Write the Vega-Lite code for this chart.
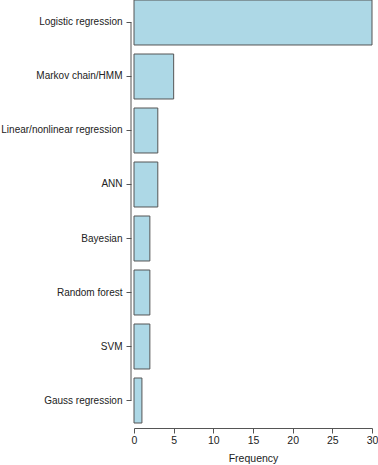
{
  "$schema": "https://vega.github.io/schema/vega-lite/v6.json",
  "autosize": "none",
  "width": 238,
  "height": 423,
  "padding": {"left": 134, "top": 0, "right": 6, "bottom": 42},
  "background": "white",
  "config": {
    "view": {"stroke": null},
    "axis": {"labelFont": "Liberation Sans", "titleFont": "Liberation Sans", "labelColor": "#222222", "titleColor": "#222222", "grid": false}
  },
  "datasets": {
    "bars": [
      {"method": "Logistic regression", "count": 30},
      {"method": "Markov chain/HMM", "count": 5},
      {"method": "Linear/nonlinear regression", "count": 3},
      {"method": "ANN", "count": 3},
      {"method": "Bayesian", "count": 2},
      {"method": "Random forest", "count": 2},
      {"method": "SVM", "count": 2},
      {"method": "Gauss regression", "count": 1}
    ],
    "axisline": [{"from": "Logistic regression", "to": "Gauss regression", "zero": 0}]
  },
  "layer": [
    {
      "data": {"name": "bars"},
      "mark": {"type": "bar", "fill": "#add8e6", "stroke": "#555555", "strokeWidth": 1},
      "encoding": {
        "y": {
          "field": "method", "type": "nominal",
          "scale": {"domain": ["Logistic regression", "Markov chain/HMM", "Linear/nonlinear regression", "ANN", "Bayesian", "Random forest", "SVM", "Gauss regression"], "paddingInner": 0.1667, "paddingOuter": 0},
          "axis": {"title": null, "domain": false, "offset": 3, "tickSize": 5, "tickColor": "#555555", "labelPadding": 4, "labelFontSize": 10, "labelLimit": 200}
        },
        "x": {
          "field": "count", "type": "quantitative",
          "scale": {"domain": [0, 30], "nice": false},
          "axis": {"title": "Frequency", "values": [0, 5, 10, 15, 20, 25, 30], "tickCount": 7, "labelOverlap": false, "labelFlush": false, "offset": 5, "tickSize": 5, "domainColor": "#555555", "tickColor": "#555555", "labelFontSize": 10.5, "labelPadding": 2, "titleFontSize": 10.5, "titleFontWeight": "normal", "titlePadding": 8}
        }
      }
    },
    {
      "data": {"name": "axisline"},
      "mark": {"type": "rule", "color": "#555555", "strokeWidth": 1, "xOffset": -3},
      "encoding": {
        "y": {"field": "from", "type": "nominal",
          "axis": {"title": null, "domain": false, "offset": 3, "tickSize": 5, "tickColor": "#555555", "labelPadding": 4, "labelFontSize": 10, "labelLimit": 200}},
        "y2": {"field": "to"},
        "x": {"field": "zero", "type": "quantitative",
          "axis": {"title": "Frequency", "values": [0, 5, 10, 15, 20, 25, 30], "tickCount": 7, "labelOverlap": false, "labelFlush": false, "offset": 5, "tickSize": 5, "domainColor": "#555555", "tickColor": "#555555", "labelFontSize": 10.5, "labelPadding": 2, "titleFontSize": 10.5, "titleFontWeight": "normal", "titlePadding": 8}}
      }
    }
  ]
}
